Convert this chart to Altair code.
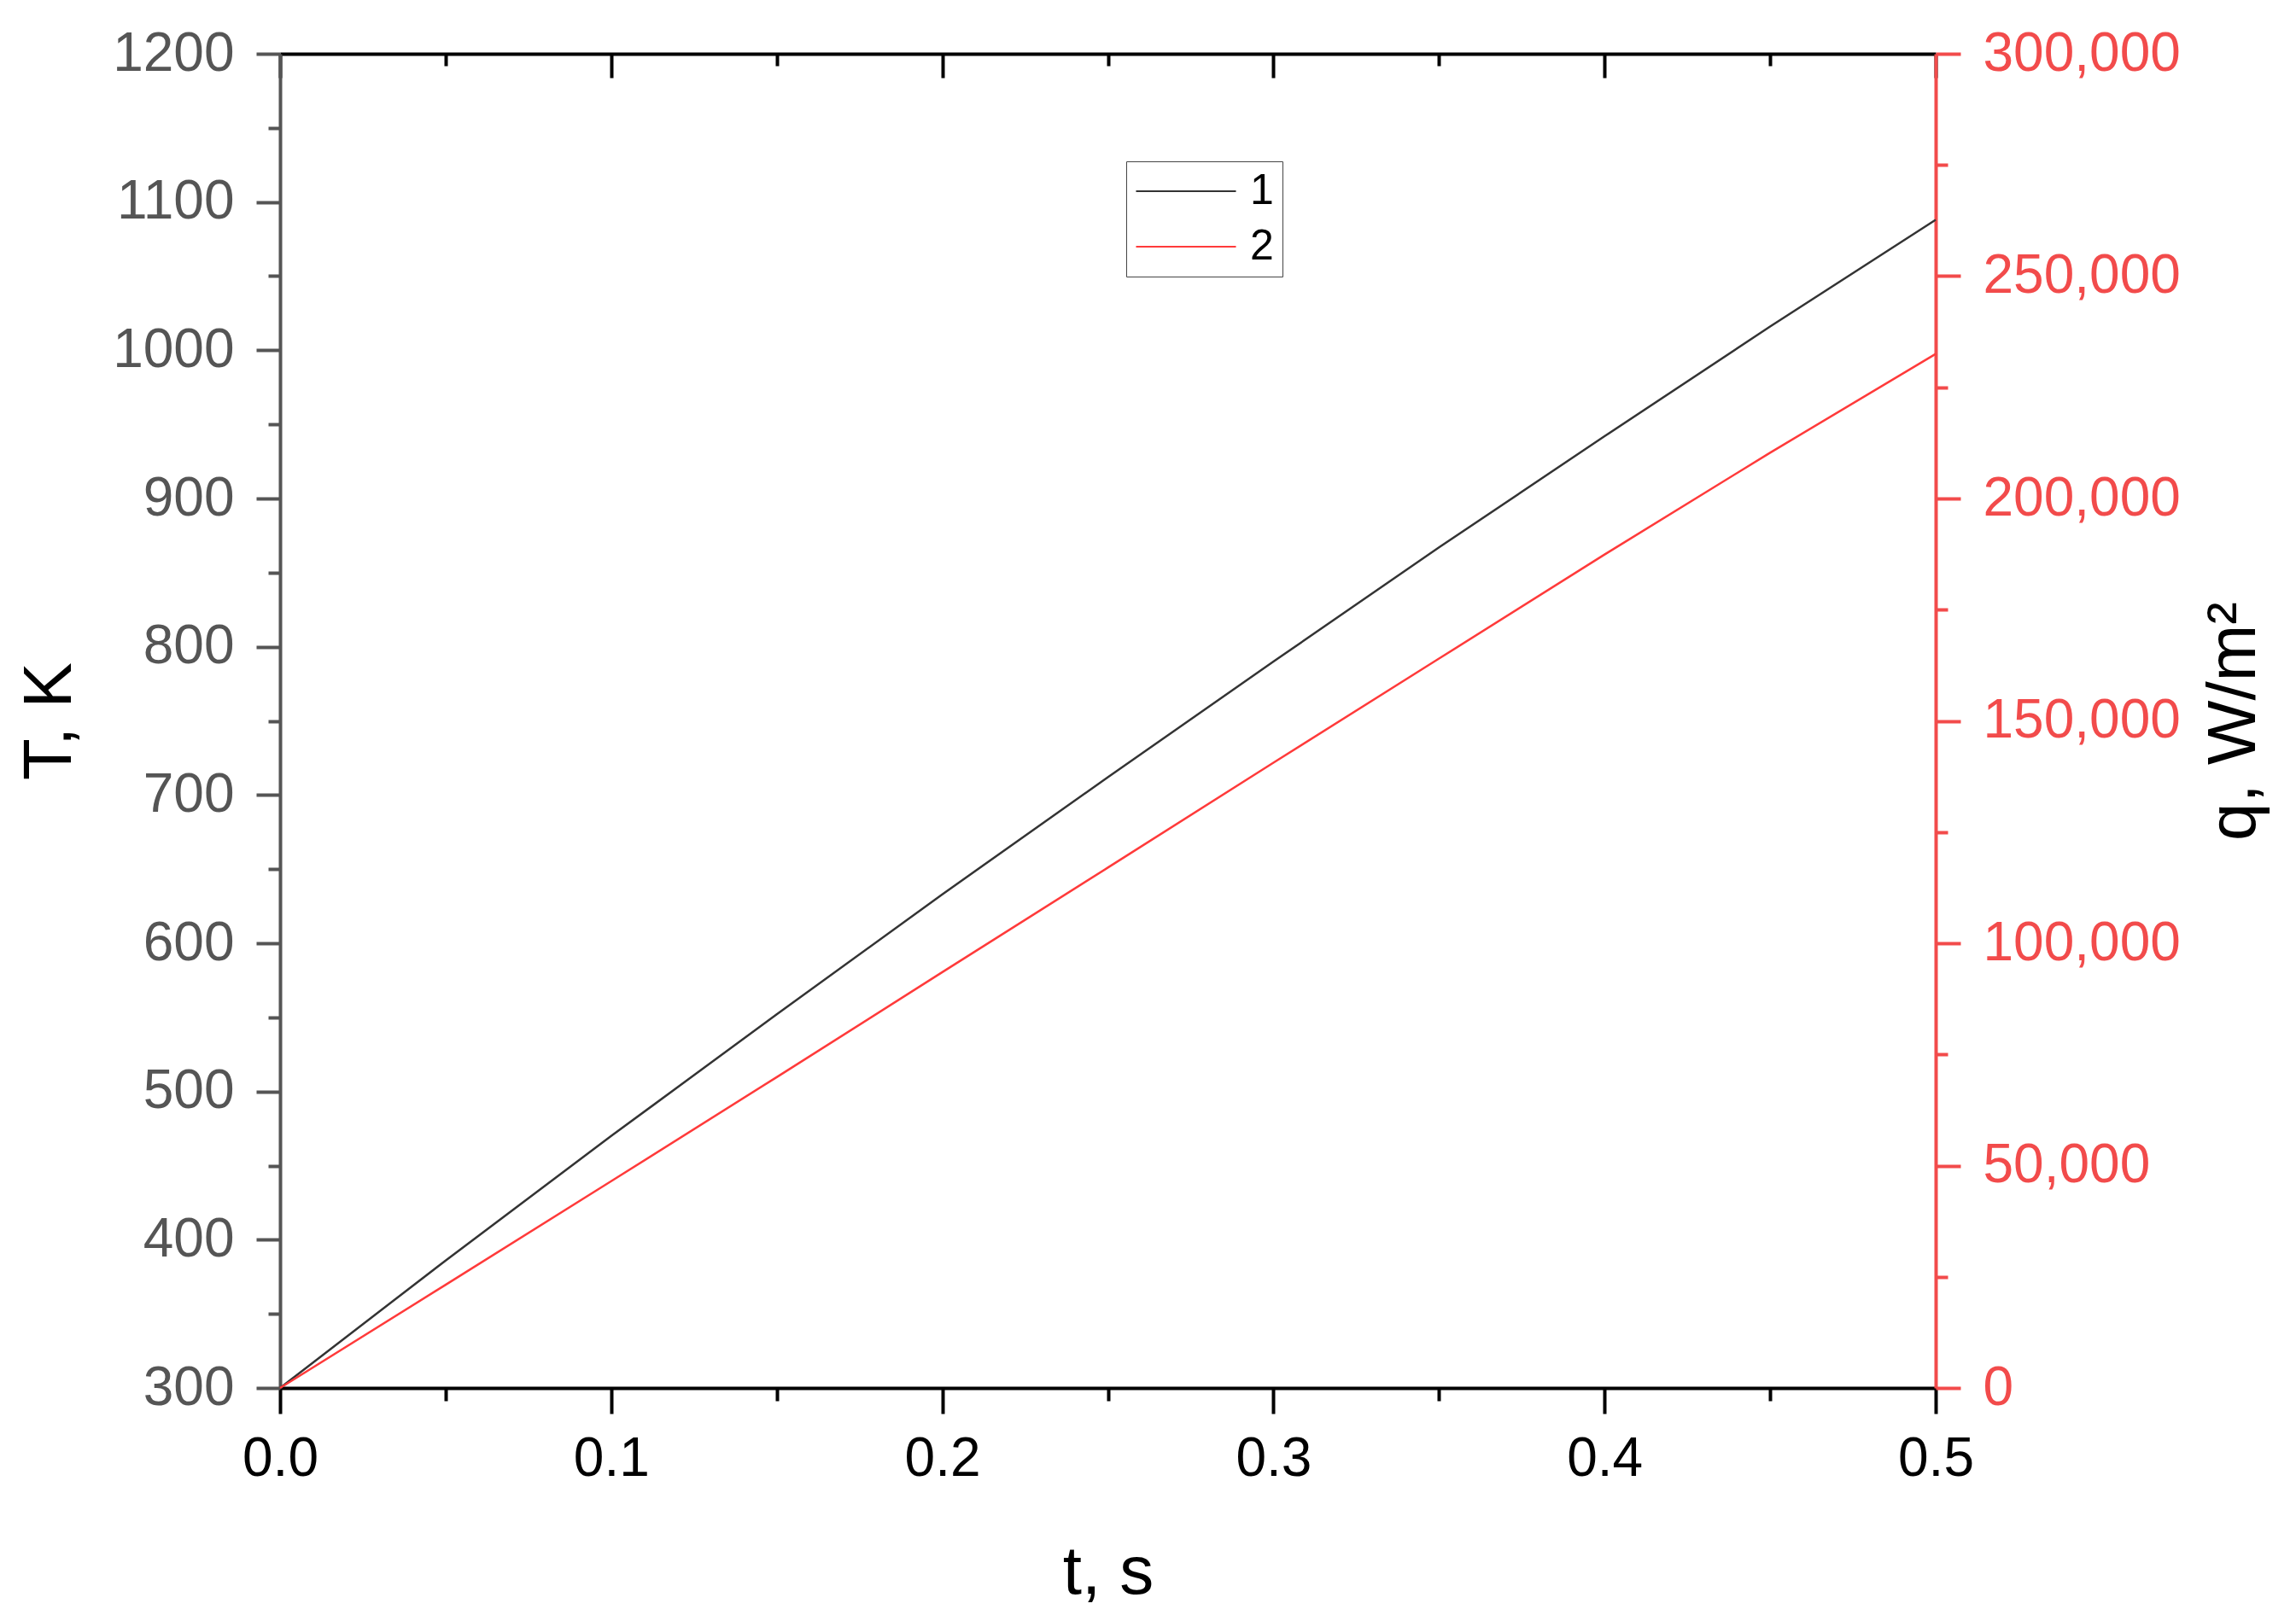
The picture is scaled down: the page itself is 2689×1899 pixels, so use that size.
import altair as alt
import pandas as pd

# --- data ---
t_s = [0.00, 0.05, 0.10, 0.15, 0.20, 0.25, 0.30, 0.35, 0.40, 0.45, 0.50]
temp_K = [300, 386, 470, 552, 633, 712, 790, 867, 942, 1016, 1088]
q_Wm2 = [0, 23200, 46500, 69900, 93500, 117000, 140600, 164000, 187400, 210300, 232500]
series_names = ["1", "2"]

x_ticks = [round(i * 0.05, 2) for i in range(11)]
T_ticks = list(range(300, 1201, 50))
q_ticks = list(range(0, 300001, 25000))

df_T = pd.DataFrame({"t": t_s, "T": temp_K, "series": series_names[0]})
df_q = pd.DataFrame({"t": t_s, "q": q_Wm2, "series": series_names[1]})

W, H = 1939, 1563
FONT = "Liberation Sans"
RED = "#f24b4b"
GRAY = "#555555"

color = alt.Color(
    "series:N",
    scale=alt.Scale(domain=series_names, range=["#333333", "#ff3a3a"]),
    legend=alt.Legend(
        title=None,
        orient="none",
        legendX=991,
        legendY=126,
        symbolType="M-5,0H5",
        symbolSize=548,
        symbolStrokeWidth=2,
        symbolOffset=35,
        labelOffset=50,
        labelFontSize=50,
        labelColor="black",
        labelFont=FONT,
        labelLimit=0,
        rowPadding=15,
        padding=10,
        strokeColor="#444444",
        fillColor="white",
    ),
)

x_major_test = "abs(datum.value*10 - round(datum.value*10)) < 1e-6"

x_bottom = alt.X(
    "t:Q",
    scale=alt.Scale(domain=[0, 0.5], nice=False, zero=False),
    axis=alt.Axis(
        orient="bottom",
        values=x_ticks,
        format=".1f",
        labelExpr=f"{x_major_test} ? datum.label : ''",
        tickSize={"condition": {"test": x_major_test, "value": 30}, "value": 15},
        tickWidth=4,
        tickColor="black",
        domainColor="black",
        domainWidth=4,
        labelFontSize=64,
        labelColor="black",
        labelPadding=21,
        labelFlush=False,
        labelOverlap=False,
        labelLimit=0,
        labelFont=FONT,
        grid=False,
        title="t, s",
        titleFontSize=80,
        titleFontWeight="normal",
        titleFont=FONT,
        titleColor="black",
        titleBaseline="alphabetic",
        titleY=240,
    ),
)

x_top = alt.X(
    "t:Q",
    scale=alt.Scale(domain=[0, 0.5], nice=False, zero=False),
    axis=alt.Axis(
        orient="bottom",
        offset=-H,
        values=x_ticks,
        labels=False,
        tickSize={"condition": {"test": x_major_test, "value": 28}, "value": 14},
        tickWidth=4,
        tickColor="black",
        domainColor="black",
        domainWidth=4,
        grid=False,
        title=None,
    ),
)

y_T = alt.Y(
    "T:Q",
    scale=alt.Scale(domain=[300, 1200], nice=False, zero=False),
    axis=alt.Axis(
        orient="left",
        values=T_ticks,
        format="d",
        labelExpr="datum.value % 100 === 0 ? datum.label : ''",
        tickSize={"condition": {"test": "datum.value % 100 === 0", "value": 28}, "value": 14},
        tickWidth=4,
        tickColor=GRAY,
        domainColor=GRAY,
        domainWidth=4,
        labelFontSize=64,
        labelColor=GRAY,
        labelPadding=26,
        labelFlush=False,
        labelOverlap=False,
        labelLimit=0,
        labelFont=FONT,
        grid=False,
        title="T, K",
        titleFontSize=80,
        titleFontWeight="normal",
        titleFont=FONT,
        titleColor="black",
        titleAngle=270,
        titleBaseline="alphabetic",
        titleX=-246,
    ),
)

y_q = alt.Y(
    "q:Q",
    scale=alt.Scale(domain=[0, 300000], nice=False, zero=False),
    axis=alt.Axis(
        orient="right",
        values=q_ticks,
        format=",d",
        labelExpr="datum.value % 50000 === 0 ? datum.label : ''",
        tickSize={"condition": {"test": "datum.value % 50000 === 0", "value": 29}, "value": 14},
        tickWidth=4,
        tickColor=RED,
        domainColor=RED,
        domainWidth=4,
        labelFontSize=64,
        labelColor=RED,
        labelPadding=26,
        labelFlush=False,
        labelOverlap=False,
        labelLimit=0,
        labelFont=FONT,
        grid=False,
        title="q, W/m²",
        titleFontSize=80,
        titleFontWeight="normal",
        titleFont=FONT,
        titleColor="black",
        titleAngle=270,
        titleBaseline="alphabetic",
        titleX=373,
    ),
)

line_T = alt.Chart(df_T).mark_line(strokeWidth=2.5).encode(x=x_bottom, y=y_T, color=color)
line_q = alt.Chart(df_q).mark_line(strokeWidth=2.5).encode(x=x_top, y=y_q, color=color)

chart = (
    alt.layer(line_T, line_q)
    .resolve_scale(y="independent", x="independent")
    .properties(
        width=W,
        height=H,
        autosize=alt.AutoSizeParams(type="none"),
        padding={"left": 320, "top": 55, "right": 414, "bottom": 265},
        background="white",
    )
    .configure_view(stroke=None)
    .configure(font=FONT)
)

chart.save("out.html", embed_options={"renderer": "svg", "actions": False})
